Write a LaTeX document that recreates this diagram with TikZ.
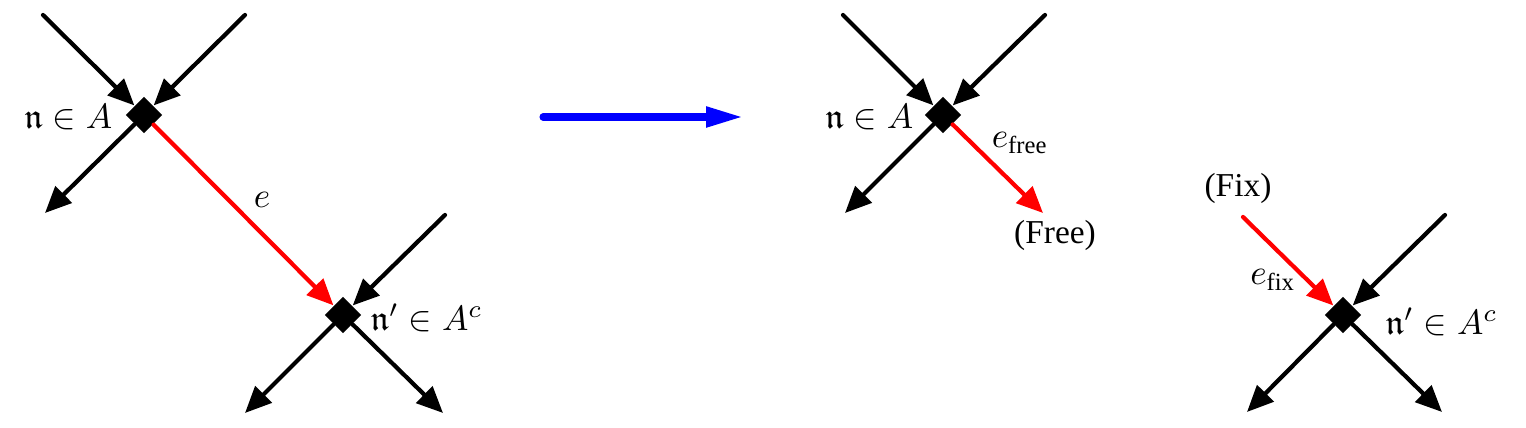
\documentclass[tikz,border=0pt]{standalone}
\usepackage{amsmath,amssymb}
\usepackage{fontspec}
\newfontfamily\tmsfont{Liberation Serif}
\usetikzlibrary{arrows.meta,shapes.geometric}
\tikzset{
  vtx/.style={diamond, fill=black, inner sep=0pt, minimum width=0.37cm, minimum height=0.37cm},
  edge/.style={line width=1.2pt, line cap=round, -{Triangle[length=7.5pt,width=6.5pt]}},
  redge/.style={edge, red},
  bigarrow/.style={blue, line width=2pt, line cap=round, -{Triangle[length=10.5pt,width=5.5pt]}},
  lbl/.style={inner sep=0pt},
  txt/.style={inner sep=0pt, font=\tmsfont\fontsize{9.5}{11}\selectfont}
}
\begin{document}
\begin{tikzpicture}[x=0.01cm,y=-0.01cm]
\useasboundingbox (0,0) rectangle (1526,428);
% left diagram
\node[vtx] (n1) at (144,115) {};
\node[vtx] (m1) at (343,315) {};
\coordinate (a1) at (43,15);
\coordinate (b1) at (245,15);
\coordinate (c1) at (45,213);
\coordinate (d1) at (445,215);
\coordinate (f1) at (245,413);
\coordinate (g1) at (443,413);
\draw[edge] (a1) -- (n1);
\draw[edge] (b1) -- (n1);
\draw[edge] (n1) -- (c1);
\draw[redge] (n1) -- (m1);
\draw[edge] (d1) -- (m1);
\draw[edge] (m1) -- (f1);
\draw[edge] (m1) -- (g1);
\node[lbl, anchor=east] (ln1) at (113,117) {$\mathfrak{n}\in A$};
\node[lbl] (le1) at (262,200) {$e$};
\node[lbl, anchor=west] (lm1) at (370,318) {$\mathfrak{n}'\in A^c$};
% blue arrow
\coordinate (p) at (543,117);
\coordinate (q) at (743,117);
\draw[bigarrow] (p) -- (q);
% middle diagram
\node[vtx] (n2) at (943,115) {};
\coordinate (a2) at (843,15);
\coordinate (b2) at (1045,15);
\coordinate (c2) at (845,213);
\coordinate (r2) at (1043,213);
\draw[edge] (a2) -- (n2);
\draw[edge] (b2) -- (n2);
\draw[edge] (n2) -- (c2);
\draw[redge] (n2) -- (r2);
\node[lbl, anchor=east] (ln2) at (914,117) {$\mathfrak{n}\in A$};
\node[lbl] (le2) at (1020,143) {$e_{\text{\tmsfont free}}$};
\node[txt] (free) at (1055,235) {(Free)};
% right diagram
\node[vtx] (m3) at (1343,315) {};
\coordinate (r3) at (1243,217);
\coordinate (d3) at (1445,215);
\coordinate (f3) at (1247,412);
\coordinate (g3) at (1442,412);
\draw[redge] (r3) -- (m3);
\draw[edge] (d3) -- (m3);
\draw[edge] (m3) -- (f3);
\draw[edge] (m3) -- (g3);
\node[txt] (fix) at (1238,188) {(Fix)};
\node[lbl] (le3) at (1273,280) {$e_{\text{\tmsfont fix}}$};
\node[lbl, anchor=west] (lm3) at (1385,322) {$\mathfrak{n}'\in A^c$};
\end{tikzpicture}
\end{document}
